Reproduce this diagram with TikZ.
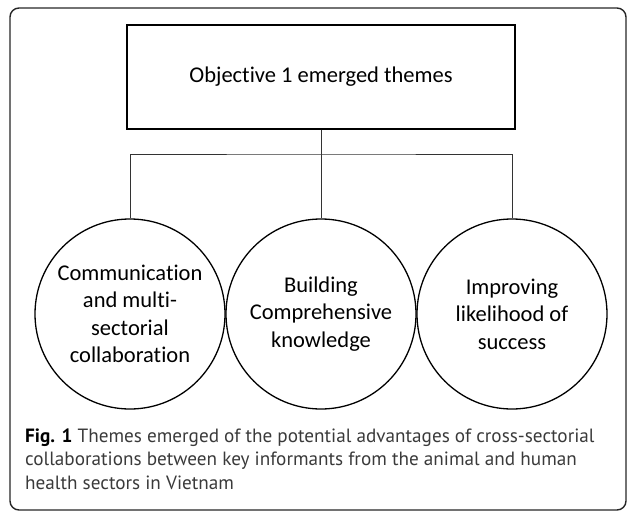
\documentclass[tikz,border=0pt]{standalone}
\usepackage{fontspec}
\setmainfont{Carlito}[Ligatures=NoCommon]
\newfontfamily\capfont{PT Sans}
\definecolor{captext}{HTML}{3A3A3A}
\begin{document}
\begin{tikzpicture}[x=1pt,y=-1pt,
  boxstyle/.style={draw=black, line width=1.4pt, minimum width=388pt, minimum height=104pt, inner sep=0pt, font=\fontsize{22.5}{27.5}\selectfont},
  theme/.style={draw=black, line width=1.3pt, circle, minimum size=190pt, inner sep=0pt, align=center, font=\fontsize{22.5}{27.5}\selectfont},
  conn/.style={draw=black!80, line width=0.9pt},
  frame/.style={draw=black!85, line width=1.4pt, rounded corners=9pt},
  capline/.style={anchor=base west, inner sep=0pt, text=captext, font=\capfont\fontsize{19.2}{23}\selectfont}]
\useasboundingbox (0,0) rectangle (627,511);
\draw[frame] (10,8) rectangle (626,510);
\node[boxstyle] (obj) at (321,77) {Objective 1 emerged themes};
\node[theme] (t1) at (130,314) {Communication\\and multi-\\sectorial\\collaboration};
\node[theme] (t2) at (321,314) {Building\\Comprehensive\\knowledge};
\node[theme] (t3) at (512,314) {Improving\\likelihood of\\success};
\coordinate (bus) at (321,154);
\draw[conn] (obj.south) -- (bus);
\draw[conn] (t1.north) |- (bus) -| (t3.north);
\draw[conn] (bus) -- (t2.north);
\node[capline] (c1) at (25,442) {\textcolor{black}{\bfseries Fig. 1} Themes emerged of the potential advantages of cross-sectorial};
\node[capline] (c2) at (25,465.5) {collaborations between key informants from the animal and human};
\node[capline] (c3) at (25,489) {health sectors in Vietnam};
\end{tikzpicture}
\end{document}
